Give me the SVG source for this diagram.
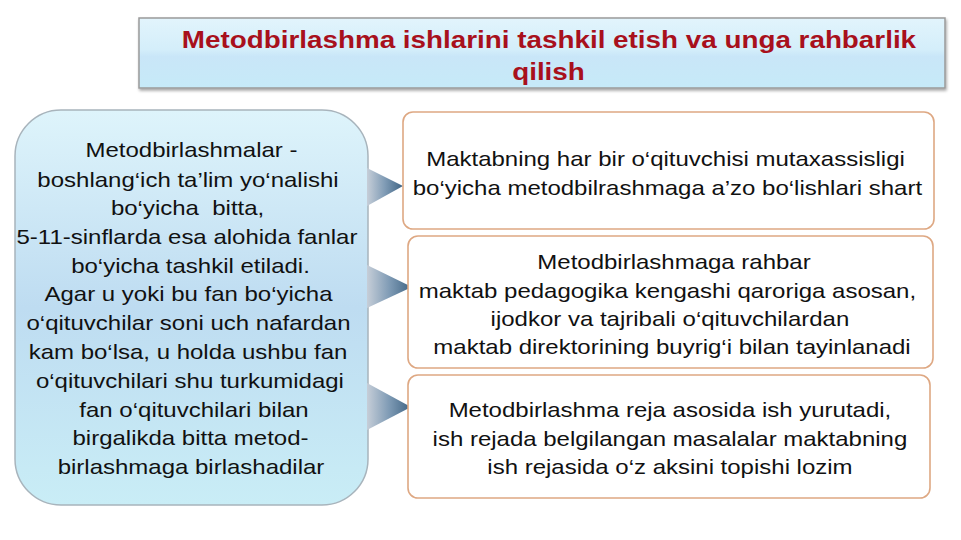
<svg xmlns="http://www.w3.org/2000/svg" width="961" height="540" viewBox="0 0 961 540">
<defs>
<linearGradient id="gTitle" x1="0" y1="0" x2="0" y2="1">
<stop offset="0" stop-color="#e2f4fc"/><stop offset="0.45" stop-color="#d4eefa"/><stop offset="0.55" stop-color="#c9e6f8"/><stop offset="1" stop-color="#c6eaf8"/>
</linearGradient>
<linearGradient id="gLeft" x1="0" y1="0" x2="0" y2="1">
<stop offset="0" stop-color="#def4fb"/><stop offset="0.5" stop-color="#bedcf1"/><stop offset="1" stop-color="#c9edf6"/>
</linearGradient>
<linearGradient id="gArrow" x1="0" y1="0" x2="1" y2="0">
<stop offset="0" stop-color="#c6ced8"/><stop offset="0.5" stop-color="#7f9bb5"/><stop offset="1" stop-color="#3f6484"/>
</linearGradient>
<filter id="sh" x="-5%" y="-5%" width="110%" height="120%">
<feDropShadow dx="1" dy="2" stdDeviation="1.5" flood-color="#000" flood-opacity="0.35"/>
</filter>
<style>
.t{font-family:"Liberation Sans",Arial,sans-serif;font-size:20px;fill:#111;text-anchor:middle}
.title{font-family:"Liberation Sans",Arial,sans-serif;font-size:23px;font-weight:bold;fill:#a8101c;text-anchor:middle}
.rbox{fill:#fff;stroke:#dea883;stroke-width:1.6}
.arrow{fill:url(#gArrow)}
</style>
</defs>
<rect width="961" height="540" fill="#fff"/>
<g id="title">
<rect x="139" y="18" width="806" height="70" fill="url(#gTitle)" stroke="#9a9a9a" stroke-width="1.5" filter="url(#sh)"/>
<g transform="scale(1.21 1)">
<text class="title" x="453.7" y="48">Metodbirlashma ishlarini tashkil etish va unga rahbarlik</text>
<text class="title" x="453.3" y="80">qilish</text>
</g>
</g>
<g id="left">
<rect x="15" y="110" width="353" height="395" rx="46" fill="url(#gLeft)" stroke="#a8b4bc" stroke-width="1.5"/>
<g transform="scale(1.2 1)">
<text class="t" x="159.6" y="157">Metodbirlashmalar -</text>
<text class="t" x="156.7" y="187">boshlang‘ich ta’lim yo‘nalishi</text>
<text class="t" x="156.3" y="215" style="white-space:pre">bo‘yicha  bitta,</text>
<text class="t" x="155.8" y="244">5-11-sinflarda esa alohida fanlar</text>
<text class="t" x="158.75" y="273">bo‘yicha tashkil etiladi.</text>
<text class="t" x="157.1" y="301">Agar u yoki bu fan bo‘yicha</text>
<text class="t" x="157.1" y="330">o‘qituvchilar soni uch nafardan</text>
<text class="t" x="156.7" y="359">kam bo‘lsa, u holda ushbu fan</text>
<text class="t" x="158.3" y="388">o‘qituvchilari shu turkumidagi</text>
<text class="t" x="161.7" y="417">fan o‘qituvchilari bilan</text>
<text class="t" x="158.75" y="445">birgalikda bitta metod-</text>
<text class="t" x="159.2" y="474">birlashmaga birlashadilar</text>
</g>
</g>
<g id="connectors">
<polygon class="arrow" points="367,168 403,186 367,206"/>
<polygon class="arrow" points="367,265 412,287 367,308"/>
<polygon class="arrow" points="367,383 411,407 367,430"/>
</g>
<g id="box1">
<rect class="rbox" x="403" y="112" width="531" height="117" rx="10"/>
<g transform="scale(1.2 1)">
<text class="t" x="554.6" y="166">Maktabning har bir o‘qituvchisi mutaxassisligi</text>
<text class="t" x="556.2" y="195">bo‘yicha metodbilrashmaga a’zo bo‘lishlari shart</text>
</g>
</g>
<g id="box2">
<rect class="rbox" x="408" y="236" width="525" height="132" rx="10"/>
<g transform="scale(1.2 1)">
<text class="t" x="561.7" y="269">Metodbirlashmaga rahbar</text>
<text class="t" x="556.2" y="298">maktab pedagogika kengashi qaroriga asosan,</text>
<text class="t" x="558.3" y="326">ijodkor va tajribali o‘qituvchilardan</text>
<text class="t" x="560" y="354">maktab direktorining buyrig‘i bilan tayinlanadi</text>
</g>
</g>
<g id="box3">
<rect class="rbox" x="408" y="375" width="522" height="123" rx="10"/>
<g transform="scale(1.2 1)">
<text class="t" x="558.3" y="417">Metodbirlashma reja asosida ish yurutadi,</text>
<text class="t" x="558.3" y="446">ish rejada belgilangan masalalar maktabning</text>
<text class="t" x="558.3" y="474">ish rejasida o‘z aksini topishi lozim</text>
</g>
</g>
</svg>
